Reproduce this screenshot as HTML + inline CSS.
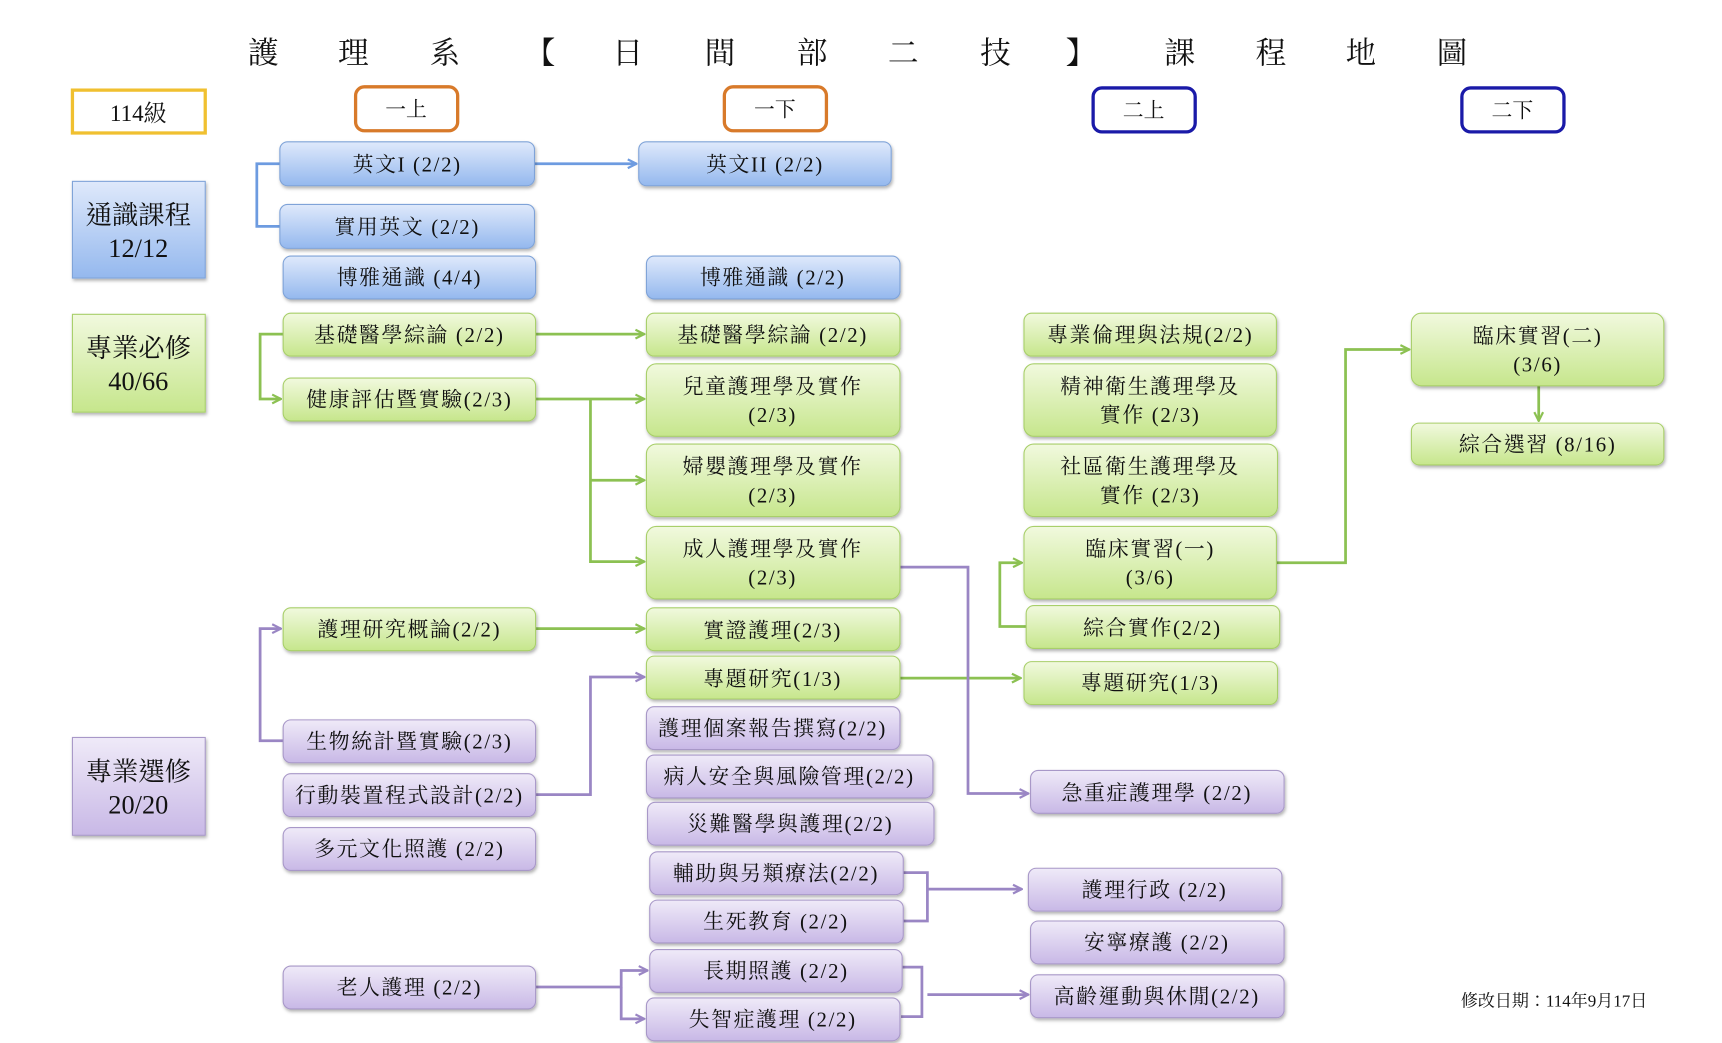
<!DOCTYPE html>
<html><head><meta charset="utf-8"><style>
html,body{margin:0;padding:0;background:#fff;}
svg{display:block;}
text{font-family:"Liberation Serif","Noto Serif CJK TC","Noto Serif CJK SC",serif;fill:#111;}
</style></head><body>
<svg width="1722" height="1043" viewBox="0 0 1569 949" preserveAspectRatio="none" xmlns="http://www.w3.org/2000/svg">
<defs>
<linearGradient id="gb" x1="0" y1="0" x2="0" y2="1"><stop offset="0" stop-color="#dfe9fb"/><stop offset="1" stop-color="#94b8ee"/></linearGradient>
<linearGradient id="gg" x1="0" y1="0" x2="0" y2="1"><stop offset="0" stop-color="#f1f9de"/><stop offset="1" stop-color="#c6e68c"/></linearGradient>
<linearGradient id="gp" x1="0" y1="0" x2="0" y2="1"><stop offset="0" stop-color="#efeaf8"/><stop offset="1" stop-color="#c8b8e6"/></linearGradient>
<filter id="sh" x="-5%" y="-10%" width="110%" height="130%"><feDropShadow dx="1" dy="2" stdDeviation="1.5" flood-color="#000" flood-opacity="0.3"/></filter>
<marker id="ab" markerWidth="10" markerHeight="10" refX="9" refY="5" orient="auto" markerUnits="userSpaceOnUse"><path d="M1,1 L9,5 L1,9" fill="none" stroke="#6d9be0" stroke-width="2"/></marker>
<marker id="ag" markerWidth="10" markerHeight="10" refX="9" refY="5" orient="auto" markerUnits="userSpaceOnUse"><path d="M1,1 L9,5 L1,9" fill="none" stroke="#8cc152" stroke-width="2"/></marker>
<marker id="ap" markerWidth="10" markerHeight="10" refX="9" refY="5" orient="auto" markerUnits="userSpaceOnUse"><path d="M1,1 L9,5 L1,9" fill="none" stroke="#9a86c4" stroke-width="2"/></marker>
</defs>

<g font-size="28" text-anchor="middle">
<text x="240" y="58">護</text><text x="322" y="58">理</text><text x="405" y="58">系</text><text x="492" y="58">【</text><text x="572" y="58">日</text><text x="656" y="58">間</text><text x="740" y="58">部</text><text x="823" y="58">二</text><text x="907" y="58">技</text><text x="985" y="58">】</text><text x="1075" y="58">課</text><text x="1158" y="58">程</text><text x="1240" y="58">地</text><text x="1323" y="58">圖</text>
</g>

<rect x="66" y="82" width="121" height="39" fill="#fff" stroke="#f0c030" stroke-width="3"/>
<text x="126" y="110" font-size="21" text-anchor="middle">114級</text>
<rect x="324" y="79" width="93" height="40" rx="8" fill="#fff" stroke="#d87a2a" stroke-width="3"/>
<text x="370" y="106" font-size="19" text-anchor="middle">一上</text>
<rect x="660" y="79" width="93" height="40" rx="8" fill="#fff" stroke="#d87a2a" stroke-width="3"/>
<text x="706" y="106" font-size="19" text-anchor="middle">一下</text>
<rect x="996" y="80" width="93" height="40" rx="8" fill="#fff" stroke="#1a1aa8" stroke-width="3"/>
<text x="1042" y="107" font-size="19" text-anchor="middle">二上</text>
<rect x="1332" y="80" width="93" height="40" rx="8" fill="#fff" stroke="#1a1aa8" stroke-width="3"/>
<text x="1378" y="107" font-size="19" text-anchor="middle">二下</text>

<g filter="url(#sh)">
<rect x="66" y="165" width="121" height="88" fill="url(#gb)" stroke="#7fa3d8"/>
<rect x="66" y="286" width="121" height="89" fill="url(#gg)" stroke="#a8cf6a"/>
<rect x="66" y="671" width="121" height="89" fill="url(#gp)" stroke="#a898c8"/>
</g>
<g font-size="24" text-anchor="middle">
<text x="126" y="204">通識課程</text><text x="126" y="234">12/12</text>
<text x="126" y="325">專業必修</text><text x="126" y="355">40/66</text>
<text x="126" y="710">專業選修</text><text x="126" y="740">20/20</text>
</g>

<g fill="none" stroke-width="2.5">
<path d="M255,149 H234 V206 H255" stroke="#6d9be0"/>
<path d="M487,149 H580" stroke="#6d9be0" marker-end="url(#ab)"/>

<path d="M258,304 H237 V363 H256" stroke="#8cc152" marker-end="url(#ag)"/>
<path d="M488,304 H587" stroke="#8cc152" marker-end="url(#ag)"/>
<path d="M488,363 H587" stroke="#8cc152" marker-end="url(#ag)"/>
<path d="M538,363 V511 H587" stroke="#8cc152" marker-end="url(#ag)"/>
<path d="M538,437 H587" stroke="#8cc152" marker-end="url(#ag)"/>
<path d="M488,572 H587" stroke="#8cc152" marker-end="url(#ag)"/>
<path d="M820,617 H930" stroke="#8cc152" marker-end="url(#ag)"/>
<path d="M935,570 H911 V512 H931" stroke="#8cc152" marker-end="url(#ag)"/>
<path d="M1163,512 H1226 V318 H1284" stroke="#8cc152" marker-end="url(#ag)"/>
<path d="M1402,351 V383" stroke="#8cc152" marker-end="url(#ag)"/>

<path d="M258,674 H237 V572 H256" stroke="#9a86c4" marker-end="url(#ap)"/>
<path d="M488,723 H538 V616 H587" stroke="#9a86c4" marker-end="url(#ap)"/>
<path d="M820,516 H882 V722 H937" stroke="#9a86c4" marker-end="url(#ap)"/>
<path d="M823,794 H845 V838 H823" stroke="#9a86c4"/>
<path d="M845,809 H931" stroke="#9a86c4" marker-end="url(#ap)"/>
<path d="M821,880 H840 V925 H821" stroke="#9a86c4"/>
<path d="M845,905 H937" stroke="#9a86c4" marker-end="url(#ap)"/>
<path d="M488,898 H566 V883 H590" stroke="#9a86c4" marker-end="url(#ap)"/>
<path d="M566,898 V927 H587" stroke="#9a86c4" marker-end="url(#ap)"/>
</g>

<g filter="url(#sh)" stroke-width="1">
<g fill="url(#gb)" stroke="#7fa3d8">
<rect x="255" y="129" width="232" height="40" rx="7"/>
<rect x="255" y="186" width="232" height="40" rx="7"/>
<rect x="258" y="233" width="230" height="39" rx="7"/>
<rect x="582" y="129" width="230" height="40" rx="7"/>
<rect x="589" y="233" width="231" height="39" rx="7"/>
</g>
<g fill="url(#gg)" stroke="#a8cf6a">
<rect x="258" y="285" width="230" height="39" rx="7"/>
<rect x="258" y="344" width="230" height="39" rx="7"/>
<rect x="258" y="553" width="230" height="39" rx="7"/>
<rect x="589" y="285" width="231" height="39" rx="7"/>
<rect x="589" y="331" width="231" height="66" rx="9"/>
<rect x="589" y="404" width="231" height="66" rx="9"/>
<rect x="589" y="479" width="231" height="66" rx="9"/>
<rect x="589" y="553" width="231" height="39" rx="7"/>
<rect x="589" y="597" width="231" height="39" rx="7"/>
<rect x="933" y="285" width="230" height="39" rx="7"/>
<rect x="933" y="331" width="230" height="66" rx="9"/>
<rect x="933" y="404" width="231" height="66" rx="9"/>
<rect x="933" y="479" width="230" height="66" rx="9"/>
<rect x="935" y="551" width="231" height="39" rx="7"/>
<rect x="933" y="602" width="231" height="39" rx="7"/>
<rect x="1286" y="285" width="230" height="66" rx="9"/>
<rect x="1286" y="385" width="230" height="38" rx="7"/>
</g>
<g fill="url(#gp)" stroke="#a898c8">
<rect x="258" y="655" width="230" height="39" rx="7"/>
<rect x="258" y="704" width="230" height="39" rx="7"/>
<rect x="258" y="753" width="230" height="39" rx="7"/>
<rect x="258" y="879" width="230" height="39" rx="7"/>
<rect x="589" y="643" width="231" height="39" rx="7"/>
<rect x="589" y="687" width="261" height="39" rx="7"/>
<rect x="590" y="730" width="261" height="39" rx="7"/>
<rect x="592" y="775" width="231" height="39" rx="7"/>
<rect x="592" y="819" width="231" height="39" rx="7"/>
<rect x="592" y="864" width="230" height="39" rx="7"/>
<rect x="589" y="908" width="231" height="39" rx="7"/>
<rect x="939" y="701" width="231" height="39" rx="7"/>
<rect x="937" y="790" width="231" height="39" rx="7"/>
<rect x="939" y="838" width="231" height="39" rx="7"/>
<rect x="939" y="887" width="231" height="39" rx="7"/>
</g>
</g>

<g font-size="19" text-anchor="middle" letter-spacing="1.5">
<text x="371" y="156">英文I (2/2)</text>
<text x="371" y="213">實用英文 (2/2)</text>
<text x="373" y="259">博雅通識 (4/4)</text>
<text x="697" y="156">英文II (2/2)</text>
<text x="704" y="259">博雅通識 (2/2)</text>

<text x="373" y="311">基礎醫學綜論 (2/2)</text>
<text x="373" y="370">健康評估暨實驗(2/3)</text>
<text x="373" y="579">護理研究概論(2/2)</text>
<text x="704" y="311">基礎醫學綜論 (2/2)</text>
<text x="704" y="358">兒童護理學及實作</text><text x="704" y="384">(2/3)</text>
<text x="704" y="431">婦嬰護理學及實作</text><text x="704" y="457">(2/3)</text>
<text x="704" y="506">成人護理學及實作</text><text x="704" y="532">(2/3)</text>
<text x="704" y="580">實證護理(2/3)</text>
<text x="704" y="624">專題研究(1/3)</text>
<text x="1048" y="311">專業倫理與法規(2/2)</text>
<text x="1048" y="358">精神衛生護理學及</text><text x="1048" y="384">實作 (2/3)</text>
<text x="1048" y="431">社區衛生護理學及</text><text x="1048" y="457">實作 (2/3)</text>
<text x="1048" y="506">臨床實習(一)</text><text x="1048" y="532">(3/6)</text>
<text x="1050" y="578">綜合實作(2/2)</text>
<text x="1048" y="628">專題研究(1/3)</text>
<text x="1401" y="312">臨床實習(二)</text><text x="1401" y="338">(3/6)</text>
<text x="1401" y="411">綜合選習 (8/16)</text>

<text x="373" y="681">生物統計暨實驗(2/3)</text>
<text x="373" y="730">行動裝置程式設計(2/2)</text>
<text x="373" y="779">多元文化照護 (2/2)</text>
<text x="373" y="905">老人護理 (2/2)</text>
<text x="704" y="669">護理個案報告撰寫(2/2)</text>
<text x="719" y="713">病人安全與風險管理(2/2)</text>
<text x="720" y="756">災難醫學與護理(2/2)</text>
<text x="707" y="801">輔助與另類療法(2/2)</text>
<text x="707" y="845">生死教育 (2/2)</text>
<text x="707" y="890">長期照護 (2/2)</text>
<text x="704" y="934">失智症護理 (2/2)</text>
<text x="1054" y="728">急重症護理學 (2/2)</text>
<text x="1052" y="816">護理行政 (2/2)</text>
<text x="1054" y="864">安寧療護 (2/2)</text>
<text x="1054" y="913">高齡運動與休閒(2/2)</text>
</g>
<text x="1416" y="916" font-size="15.5" text-anchor="middle">修改日期：114年9月17日</text>
</svg>
</body></html>
